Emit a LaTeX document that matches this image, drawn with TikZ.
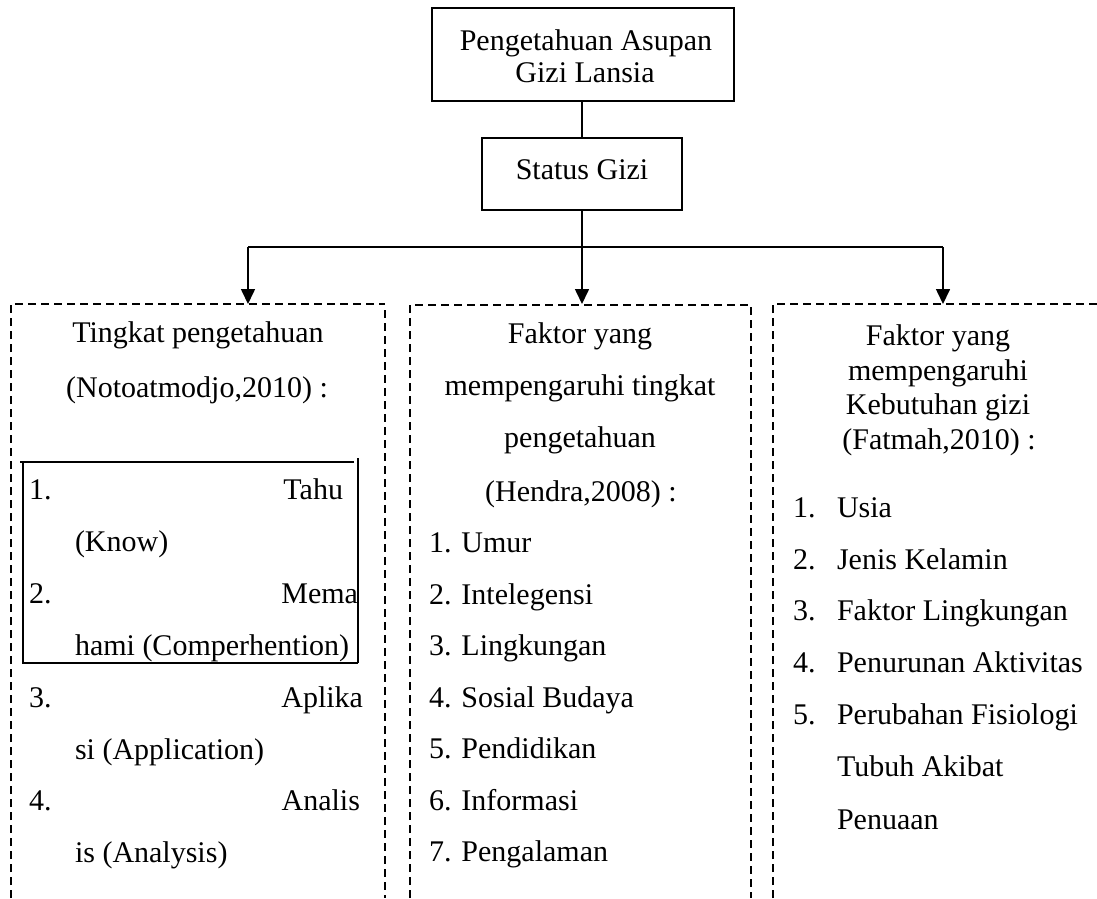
\documentclass[tikz,border=0pt]{standalone}
\usepackage{fontspec}
\setmainfont{Liberation Serif}
\usetikzlibrary{arrows.meta}
\begin{document}
\begin{tikzpicture}[x=1pt,y=-1pt,
  every node/.style={font=\fontsize{30}{36}\selectfont, inner sep=0pt, outer sep=0pt},
  txt/.style={anchor=mid, yshift=-7pt},
  txtl/.style={anchor=mid west, yshift=-7pt},
  txtr/.style={anchor=mid east, yshift=-7pt},
  frame/.style={draw, line width=1.5pt},
  conn/.style={line width=1.6pt},
  arr/.style={conn, -{Triangle[width=14pt,length=15pt]}},
  dashline/.style={line width=1.4pt, dash pattern=on 8pt off 5pt},
]
\useasboundingbox (0,0) rectangle (1097,898);

% top boxes
\node[frame, minimum width=302pt, minimum height=93pt] (top) at (583,54.5) {};
\node[txt] (topa) at (586,41) {Pengetahuan Asupan};
\node[txt] (topb) at (585,73) {Gizi Lansia};
\node[frame, minimum width=200pt, minimum height=72pt] (status) at (582,174) {};
\node[txt] (stat) at (582,170) {Status Gizi};

% connectors
\coordinate (jl) at (248,247);
\coordinate (jr) at (943,247);
\coordinate (p1top) at (248,304);
\coordinate (p2top) at (582,304);
\coordinate (p3top) at (943,304);
\draw[conn] (status.north |- top.south) -- (status.north);
\draw[conn] (jl) -- (jr);
\draw[arr] (status.south) -- (p2top);
\draw[arr] (jl) -- (p1top);
\draw[arr] (jr) -- (p3top);

% dashed panels
\draw[dashline] (11,898) -- (11,304) -- (385,304);
\draw[dashline] (385,310) -- (385,898);
\draw[dashline] (410,898) -- (410,305) -- (751,305) -- (751,898);
\draw[dashline] (773,898) -- (773,304) -- (1097,304);

% inner solid frame (left panel)
\draw[conn, line width=1.4pt] (20,462) -- (354,462);
\draw[conn, line width=1.4pt] (23,462) -- (23,663) -- (358,663);
\draw[conn, line width=1.4pt] (358,458) -- (358,663);

% left panel text
\node[txt] (l0) at (198,333) {Tingkat pengetahuan};
\node[txt] (l1) at (197,388) {(Notoatmodjo,2010) :};
\node[txtl] (l3a) at (29,490) {1.};
\node[txtr] (l3b) at (343,490) {Tahu};
\node[txtl] (l4) at (75,542) {(Know)};
\node[txtl] (l5a) at (29,594) {2.};
\node[txtr] (l5b) at (358,594) {Mema};
\node[txtl] (l6) at (75,646) {hami (Comperhention)};
\node[txtl] (l7a) at (29,698) {3.};
\node[txtr] (l7b) at (363,698) {Aplika};
\node[txtl] (l8) at (75,750) {si (Application)};
\node[txtl] (l9a) at (29,801) {4.};
\node[txtr] (l9b) at (360,801) {Analis};
\node[txtl] (l10) at (75,853) {is (Analysis)};

% middle panel text
\node[txt] (m0) at (580,334) {Faktor yang};
\node[txt] (m1) at (580,386) {mempengaruhi tingkat};
\node[txt] (m2) at (580,438) {pengetahuan};
\node[txt] (m3) at (581,492) {(Hendra,2008) :};
\node[txtl] (m4) at (429,543) {1. Umur};
\node[txtl] (m5) at (429,595) {2. Intelegensi};
\node[txtl] (m6) at (429,646) {3. Lingkungan};
\node[txtl] (m7) at (429,698) {4. Sosial Budaya};
\node[txtl] (m8) at (429,749) {5. Pendidikan};
\node[txtl] (m9) at (429,801) {6. Informasi};
\node[txtl] (m10) at (429,852) {7. Pengalaman};

% right panel text
\node[txt] (r0) at (938,336) {Faktor yang};
\node[txt] (r1) at (938,371) {mempengaruhi};
\node[txt] (r2) at (938,405) {Kebutuhan gizi};
\node[txt] (r3) at (939,440) {(Fatmah,2010) :};
\foreach \n/\t/\yy in {1/Usia/508, 2/Jenis Kelamin/560, 3/Faktor Lingkungan/611, 4/Penurunan Aktivitas/663, 5/Perubahan Fisiologi/715} {
  \node[txtl] (rn\n) at (793,\yy) {\n.};
  \node[txtl] (rt\n) at (837,\yy) {\t};
}
\node[txtl] (rt6) at (837,767) {Tubuh Akibat};
\node[txtl] (rt7) at (837,820) {Penuaan};
\end{tikzpicture}
\end{document}
